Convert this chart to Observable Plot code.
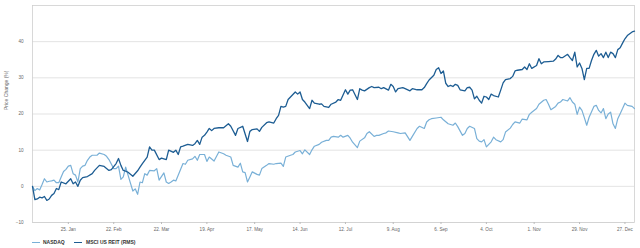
<!DOCTYPE html>
<html>
<head>
<meta charset="utf-8">
<script src="https://cdn.jsdelivr.net/npm/d3@7"></script>
<script src="https://cdn.jsdelivr.net/npm/@observablehq/plot@0.6"></script>
<style>
  html, body { margin: 0; padding: 0; background: #fff; }
  #wrap { position: relative; width: 640px; height: 248px; font-family: "Liberation Sans", Arial, sans-serif; }
  #legend { position: absolute; left: 0; top: 234px; width: 640px; height: 14px; }
  .sw { position: absolute; top: 8px; width: 8px; height: 1.4px; }
  .lt { position: absolute; top: 5px; font-size: 5px; line-height: 6px; font-weight: bold; color: #333; white-space: nowrap; }
</style>
</head>
<body>
<div id="wrap">
  <div id="chart"></div>
  <div id="legend"></div>
</div>
<script>
// x = trading session of 2021 (0 = 31 Dec 2020), y = price change in %
const seriesNames = ["NASDAQ", "MSCI US REIT (RMS)"];
const seriesColors = ["#79b0d7", "#1d5d93"];

const nasdaqSessions = [0,1,2,3,4,5,6,7,8,9,10,11,12,13,14,15,16,17,18,19,20,21,22,23,24,25,27,28,30,31,32,34,35,36,37,38,39,41,42,43,44,45,46,47,48,49,51,52,53,55,56,57,58,59,60,63,64,65,67,68,69,70,72,73,74,76,78,80,81,83,84,86,87,88,89,90,91,92,94,95,96,98,99,101,102,104,105,106,108,109,110,112,113,114,116,117,118,120,121,123,124,125,126,128,129,130,132,133,134,136,137,139,140,141,143,144,145,147,148,149,151,153,154,156,158,159,161,162,164,165,166,167,169,171,172,174,176,177,178,180,181,182,183,185,186,187,188,189,190,192,193,194,196,197,198,200,201,202,204,205,207,208,209,211,212,214,215,216,217,219,220,221,222,224,225,226,227,228,229,230,231,232,233,235,236,237,238,239,240,241,242,243,244,245,246,247,248,249,251,252];
const nasdaqValues = [0,-1.2,-0.6,-1.0,0.5,2.1,1.2,1.4,1.5,1.7,1.0,1.0,2.6,4.1,4.7,5.6,5.8,3.5,3.1,1.2,4.9,5.6,5.8,7.2,8.1,8.6,8.6,9.2,8.8,8.3,7.4,4.9,4.9,5.6,1.9,2.6,5.3,0.9,-1.3,-0.7,-2.2,1.2,1.0,3.5,3.1,4.4,4.3,4.9,1.7,3.7,1.2,0.8,1.2,1.7,1.5,6.3,6.1,7.2,7.6,8.3,7.2,8.8,8.8,6.9,8.1,7.0,9.5,9.0,8.6,8.1,5.8,5.3,6.4,4.0,3.8,1.2,2.6,4.0,3.3,3.1,4.9,5.8,6.3,6.1,6.3,6.4,5.5,8.1,8.6,8.8,9.5,9.9,9.0,10.1,8.8,10.1,11.1,11.6,12.2,12.7,12.7,13.6,13.8,13.6,14.1,13.6,14.1,13.3,12.2,10.7,12.5,13.4,14.6,15.1,13.8,14.1,14.1,14.6,14.8,15.3,15.1,14.8,14.6,14.8,12.7,13.8,16.0,16.6,16.0,17.8,18.4,18.7,18.9,19.1,18.4,17.3,16.9,17.5,16.5,14.1,14.6,16.0,16.6,16.0,13.2,12.5,12.3,12.9,10.9,12.3,13.6,12.9,12.3,12.9,15.0,16.1,17.1,17.8,17.5,18.6,18.4,19.9,20.5,21.5,22.7,23.8,24.0,22.7,21.2,22.1,23.0,23.3,24.0,23.6,24.5,23.3,22.7,19.9,21.9,21.0,19.0,16.9,19.1,22.1,22.4,21.0,20.3,21.5,18.7,20.0,20.5,17.3,16.0,18.7,20.1,21.5,23.0,22.4,22.1,21.5];

const reitSessions = [0,1,2,3,4,5,6,7,8,9,10,11,12,14,16,17,18,19,20,21,23,25,26,28,30,32,33,35,36,37,38,39,40,42,44,45,46,48,49,50,51,53,54,55,56,57,59,60,61,62,63,65,67,68,69,70,71,72,73,74,75,76,78,80,82,83,85,86,88,90,91,92,94,95,96,98,99,101,102,103,104,105,106,107,108,110,111,112,113,114,116,117,118,120,121,122,124,125,127,128,129,131,132,133,134,136,137,138,139,141,142,143,145,146,147,149,150,151,152,153,155,156,158,159,161,163,164,165,166,168,169,170,171,172,173,174,175,176,177,178,179,181,182,183,184,185,186,187,188,189,190,191,192,193,195,196,197,198,200,201,202,203,205,206,207,208,209,211,212,213,214,216,218,219,220,221,222,224,225,226,227,228,229,230,231,232,233,234,235,236,237,238,239,240,241,242,243,244,245,246,247,248,249,251,252];
const reitValues = [0,-3.7,-3.5,-3.0,-3.2,-2.8,-3.9,-3.5,-2.5,-2.0,-0.6,-0.9,1.2,0.7,2.1,0.7,1.2,0.0,1.7,2.4,2.7,3.5,4.4,5.8,5.5,4.4,4.6,6.3,7.7,5.8,4.4,4.2,3.9,2.8,4.3,5.3,6.3,8.1,10.9,10.0,10.0,7.4,7.8,7.6,7.4,10.0,9.4,10.0,8.8,10.9,11.1,11.6,11.3,11.8,12.7,11.6,13.6,14.1,15.0,16.0,15.4,16.0,16.2,16.2,17.3,16.6,14.1,16.0,16.6,12.4,15.2,15.7,15.9,15.2,16.3,17.6,17.8,17.5,18.7,19.6,22.1,21.9,22.1,24.0,24.7,26.1,25.5,26.1,24.0,23.3,21.5,23.8,23.0,22.7,22.8,22.1,21.8,22.7,23.3,24.0,23.8,26.7,25.5,26.6,26.7,24.0,27.0,26.6,26.4,27.3,27.6,27.3,27.4,27.0,27.3,26.6,28.2,27.6,26.1,27.0,27.3,27.0,26.4,27.0,26.7,26.7,27.3,28.4,29.4,30.7,32.3,32.8,31.2,31.9,28.5,27.6,27.9,27.6,28.2,27.9,26.7,26.4,27.3,27.4,26.6,24.2,24.9,23.8,23.0,24.9,24.7,24.0,25.5,25.1,24.7,26.6,28.6,29.5,29.8,30.4,31.9,32.1,32.3,33.0,32.3,33.9,32.6,33.4,35.3,33.9,34.4,34.5,34.6,35.2,36.2,35.6,35.6,36.5,35.6,34.8,37.1,33.0,34.1,32.6,29.5,32.6,32.6,34.8,36.5,37.6,36.0,36.7,35.6,37.1,35.6,37.1,36.7,35.6,37.8,38.3,39.6,40.8,41.7,42.7,42.9];

const tickSessions = [15,34,54,73,93,112,131,151,171,190,210,229,248];
const tickLabels = ["25. Jan","22. Feb","22. Mar","19. Apr","17. May","14. Jun","12. Jul","9. Aug","6. Sep","4. Oct","1. Nov","29. Nov","27. Dec"];
const yTicks = [-10,0,10,20,30,40];
const yTitle = "Price Change (%)";

const nasdaq = nasdaqSessions.map((s, i) => ({s, v: nasdaqValues[i]}));
const reit = reitSessions.map((s, i) => ({s, v: reitValues[i]}));

const chart = Plot.plot({
  width: 640,
  height: 234,
  marginLeft: 32,
  marginRight: 6,
  marginTop: 5,
  marginBottom: 12,
  style: {fontFamily: "'Liberation Sans', Arial, sans-serif", fontSize: "4.6px", color: "#666", background: "#fff"},
  x: {type: "linear", domain: [0, 252]},
  y: {domain: [-10, 50]},
  marks: [
    Plot.gridY(yTicks, {stroke: "#dcdcdc", strokeOpacity: 1, strokeWidth: 0.8}),
    Plot.frame({stroke: "#cfcfcf", strokeWidth: 0.8}),
    Plot.axisY(yTicks, {tickSize: 0, tickPadding: 9, label: null, fill: "#666"}),
    Plot.axisX(tickSessions, {tickSize: 2, tickPadding: 3, stroke: "#bbb", label: null, fill: "#666",
      tickFormat: d => tickLabels[tickSessions.indexOf(d)]}),
    Plot.text([yTitle], {frameAnchor: "left", rotate: -90, dx: -26, dy: -4, fill: "#666", fontSize: 5}),
    Plot.line(nasdaq, {x: "s", y: "v", stroke: seriesColors[0], strokeWidth: 1.2}),
    Plot.line(reit, {x: "s", y: "v", stroke: seriesColors[1], strokeWidth: 1.3})
  ]
});
document.getElementById("chart").appendChild(chart);

const legend = document.getElementById("legend");
const lx = [[32, 43], [74, 86]];
seriesNames.forEach((name, i) => {
  const sw = document.createElement("div");
  sw.className = "sw";
  sw.style.left = lx[i][0] + "px";
  sw.style.background = seriesColors[i];
  legend.appendChild(sw);
  const t = document.createElement("div");
  t.className = "lt";
  t.style.left = lx[i][1] + "px";
  t.textContent = name;
  legend.appendChild(t);
});
</script>
</body>
</html>
